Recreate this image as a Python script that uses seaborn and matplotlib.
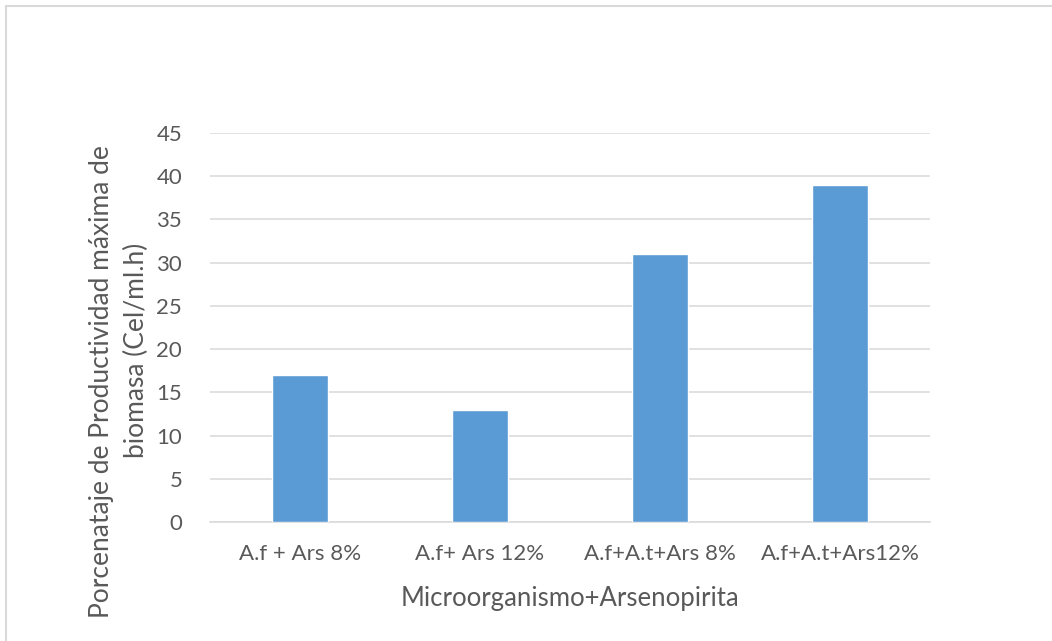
import matplotlib
matplotlib.use("Agg")
import matplotlib.pyplot as plt
import seaborn as sns
import pandas as pd

categories = ["A.f + Ars 8%", "A.f+ Ars 12%", "A.f+A.t+Ars 8%", "A.f+A.t+Ars12%"]
values = [17, 13, 31, 39]
y_ticks = [0, 5, 10, 15, 20, 25, 30, 35, 40, 45]
y_title = ["Porcenataje de Productividad máxima de", "biomasa (Cel/ml.h)"]

sns.set_theme(style="white")
plt.rcParams["font.family"] = ["Lato", "DejaVu Sans"]

df = pd.DataFrame({"grupo": categories, "valor": values})

W, H = 1052, 641
fig = plt.figure(figsize=(W / 100, H / 100), dpi=100)
ax = fig.add_axes([0.1996, 0.1857, 0.6844, 0.6068])

sns.barplot(data=df, x="grupo", y="valor", color="#5B9BD5", saturation=1,
            width=0.31, ax=ax, zorder=3)

ax.set_ylim(0, 45)
ax.set_xlim(-0.5, 3.5)
ax.set_yticks(y_ticks)
ax.yaxis.grid(True, color="#D9D9D9", linewidth=1.1, zorder=0)
ax.set_axisbelow(True)
for side in ["top", "right", "left"]:
    ax.spines[side].set_visible(False)
ax.spines["bottom"].set_color("#D9D9D9")
ax.spines["bottom"].set_linewidth(1.1)
ax.tick_params(axis="both", length=0, labelsize=16, labelcolor="#595959")
ax.tick_params(axis="x", pad=16)
ax.tick_params(axis="y", pad=20)

ax.set_xlabel("Microorganismo+Arsenopirita", fontsize=18.5, color="#595959", labelpad=16)
ax.set_ylabel("")

# two-line vertical axis title, each line placed on its own
fig.text(102 / W, 1 - 382 / H, y_title[0], rotation=90, ha="center", va="center",
         fontsize=19, color="#595959")
fig.text(136 / W, 1 - 350 / H, y_title[1], rotation=90, ha="center", va="center",
         fontsize=19, color="#595959")

# light frame around the chart area
fig.add_artist(plt.Rectangle((6 / W, -0.01), 1.1, 1 - 6 / H + 0.01,
                             transform=fig.transFigure, fill=False,
                             edgecolor="#D9D9D9", linewidth=1.5))

fig.savefig("out.png", dpi=100, facecolor="white")
